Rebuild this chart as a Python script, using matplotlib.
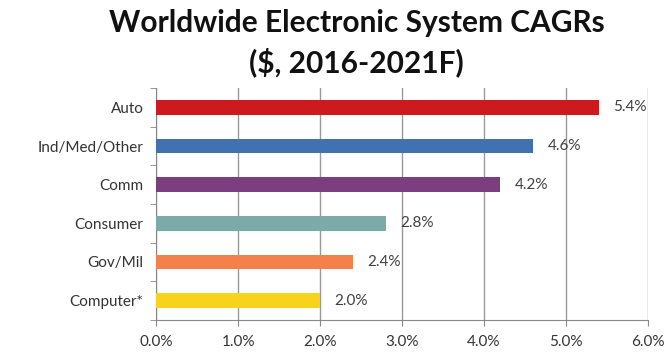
import matplotlib
matplotlib.use("Agg")
import matplotlib.pyplot as plt
import numpy as np

categories = ["Auto", "Ind/Med/Other", "Comm", "Consumer", "Gov/Mil", "Computer*"]
cagr = [5.4, 4.6, 4.2, 2.8, 2.4, 2.0]
colors = ["#CC1A1F", "#4271B0", "#7B3F80", "#7BAAA8", "#F4814B", "#F7D31B"]
xticks = [0, 1, 2, 3, 4, 5, 6]

plt.rcParams["font.family"] = ["Lato", "DejaVu Sans"]

fig = plt.figure(figsize=(6.7, 3.57), dpi=100)
ax = fig.add_axes([0.233, 0.104, 0.734, 0.649])

y = np.arange(len(categories))
ax.barh(y, cagr, height=0.38, color=colors, zorder=3)
for yi, v in zip(y, cagr):
    ax.text(v + 0.18, yi, "{:.1f}%".format(v), va="center", ha="left",
            fontsize=11, color="#404040")

ax.set_xlim(0, 6)
ax.set_ylim(len(categories) - 0.5, -0.5)
ax.set_xticks(xticks)
ax.set_xticklabels(["{:.1f}%".format(t) for t in xticks], fontsize=11, color="#333333")
ax.set_yticks(y)
ax.set_yticklabels(categories, fontsize=11, color="#333333")
ax.tick_params(axis="y", length=0, pad=9)
ax.tick_params(axis="x", length=4, color="#888888", pad=7)
# small tick marks at category boundaries on the left axis
ax.set_yticks(np.arange(-0.5, len(categories)), minor=True)
ax.tick_params(axis="y", which="minor", length=4, color="#888888")

ax.grid(axis="x", color="#999999", linewidth=1, zorder=0)
for side in ["top", "right"]:
    ax.spines[side].set_visible(False)
for side in ["left", "bottom"]:
    ax.spines[side].set_color("#888888")

fig.text(0.532, 0.935, "Worldwide Electronic System CAGRs", ha="center", va="center",
         fontsize=21.5, fontweight="bold", color="#111111")
fig.text(0.532, 0.825, "($, 2016-2021F)", ha="center", va="center",
         fontsize=21.5, fontweight="bold", color="#111111")

fig.savefig("out.png", dpi=100)
